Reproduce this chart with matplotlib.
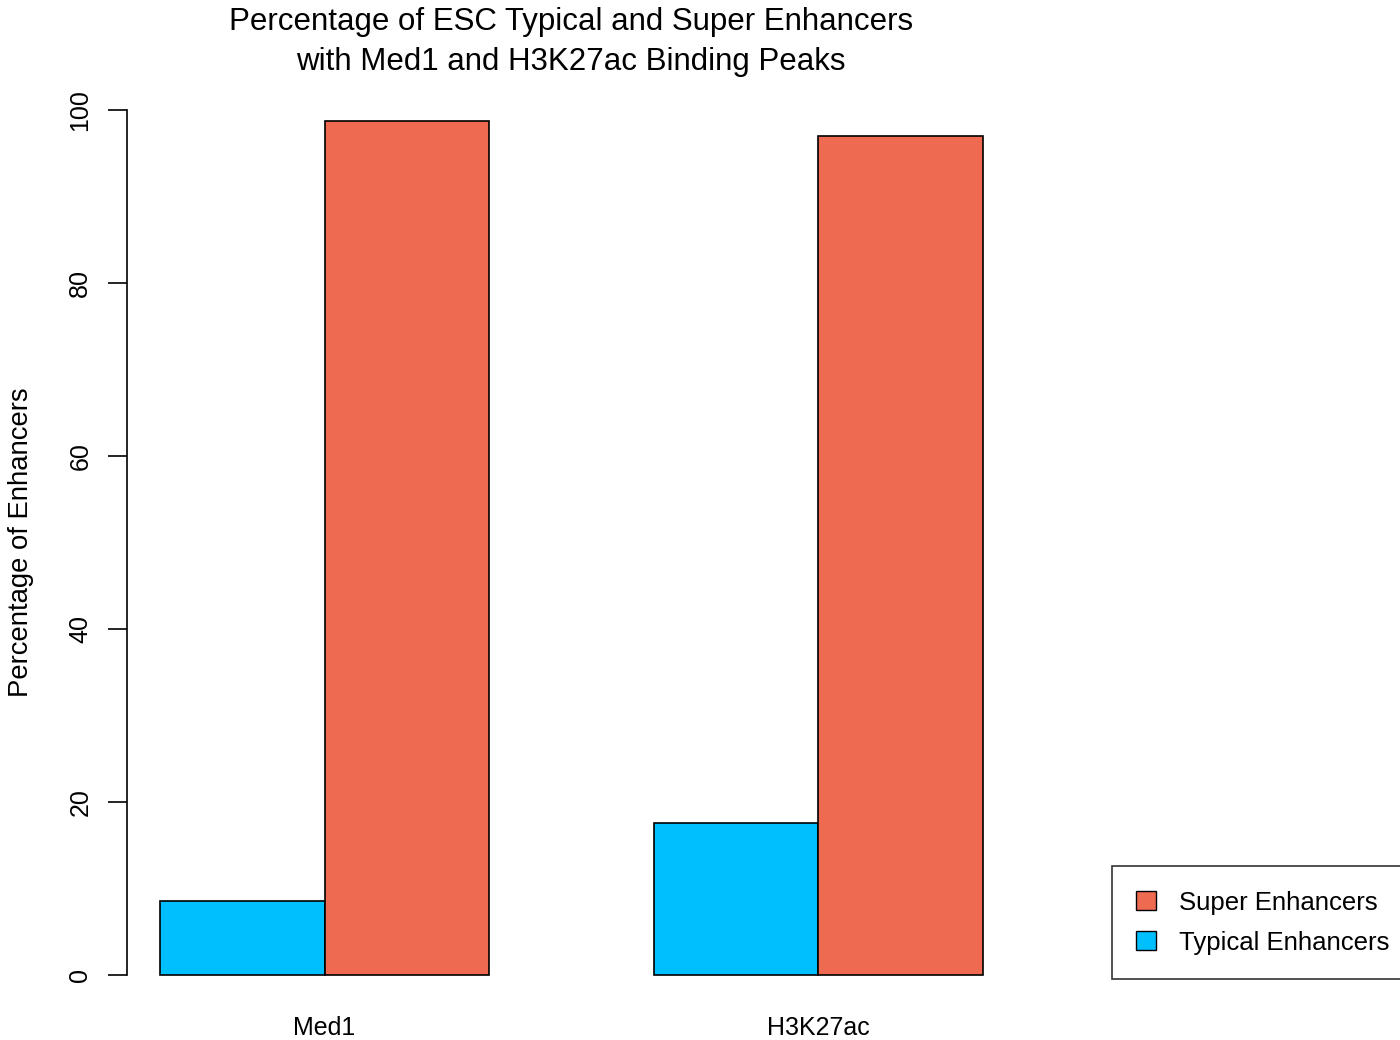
import matplotlib.pyplot as plt
from matplotlib.patches import Patch

# Значення
groups = ['Med1', 'H3K27ac']
typical = [8.6, 17.6]
super_enh = [98.7, 97.0]
series_names = ['Super Enhancers', 'Typical Enhancers']
y_ticks = [0, 20, 40, 60, 80, 100]

col_typical = '#00BFFF'
col_super = '#EE6A50'

plt.rcParams['font.family'] = ['Liberation Sans', 'DejaVu Sans']

fig = plt.figure(figsize=(14, 10.4), dpi=100)
ax = fig.add_axes([127 / 1400, 30 / 1040, (1016 - 127) / 1400, (1010 - 75) / 1040])

# Позиції стовпців як у barplot(beside=TRUE) з R
for i in range(len(groups)):
    start = 1 + 3 * i
    ax.bar(start, typical[i], width=1, align='edge', color=col_typical, edgecolor='black', linewidth=1.2)
    ax.bar(start + 1, super_enh[i], width=1, align='edge', color=col_super, edgecolor='black', linewidth=1.2)

ax.set_xlim(0.8, 6.2)
ax.set_ylim(-4, 104)

for s in ['top', 'right', 'bottom']:
    ax.spines[s].set_visible(False)
ax.spines['left'].set_bounds(0, 100)
ax.spines['left'].set_linewidth(1.2)

ax.set_yticks(y_ticks)
ax.set_yticklabels([str(t) for t in y_ticks], rotation=90, va='center', fontsize=18)
ax.tick_params(axis='y', length=14, width=1.2, pad=11)
ax.set_xticks([2 + 3 * i for i in range(len(groups))])
ax.set_xticklabels(groups, fontsize=18)
ax.tick_params(axis='x', length=0, pad=4)

ax.set_ylabel('Percentage of Enhancers', fontsize=19.8, va='center')
ax.yaxis.set_label_coords(21 / 1400, 1 - 542 / 1040, transform=fig.transFigure)

fig.text(571 / 1400, 1 - 42 / 1040,
         'Percentage of ESC Typical and Super Enhancers\nwith Med1 and H3K27ac Binding Peaks',
         ha='center', va='center', fontsize=22.5, linespacing=1.45)

handles = [Patch(facecolor=col_super, edgecolor='black'),
           Patch(facecolor=col_typical, edgecolor='black')]
leg = ax.legend(handles, series_names, loc='lower left', bbox_to_anchor=(1112 / 1400, 61 / 1040),
                bbox_transform=fig.transFigure, fontsize=18.5, frameon=True, fancybox=False,
                edgecolor='black', handlelength=0.75, handleheight=0.75, handletextpad=0.9,
                borderpad=0.95, labelspacing=0.62, borderaxespad=0)
leg.get_frame().set_linewidth(1.2)

fig.savefig('out.png', dpi=100)
